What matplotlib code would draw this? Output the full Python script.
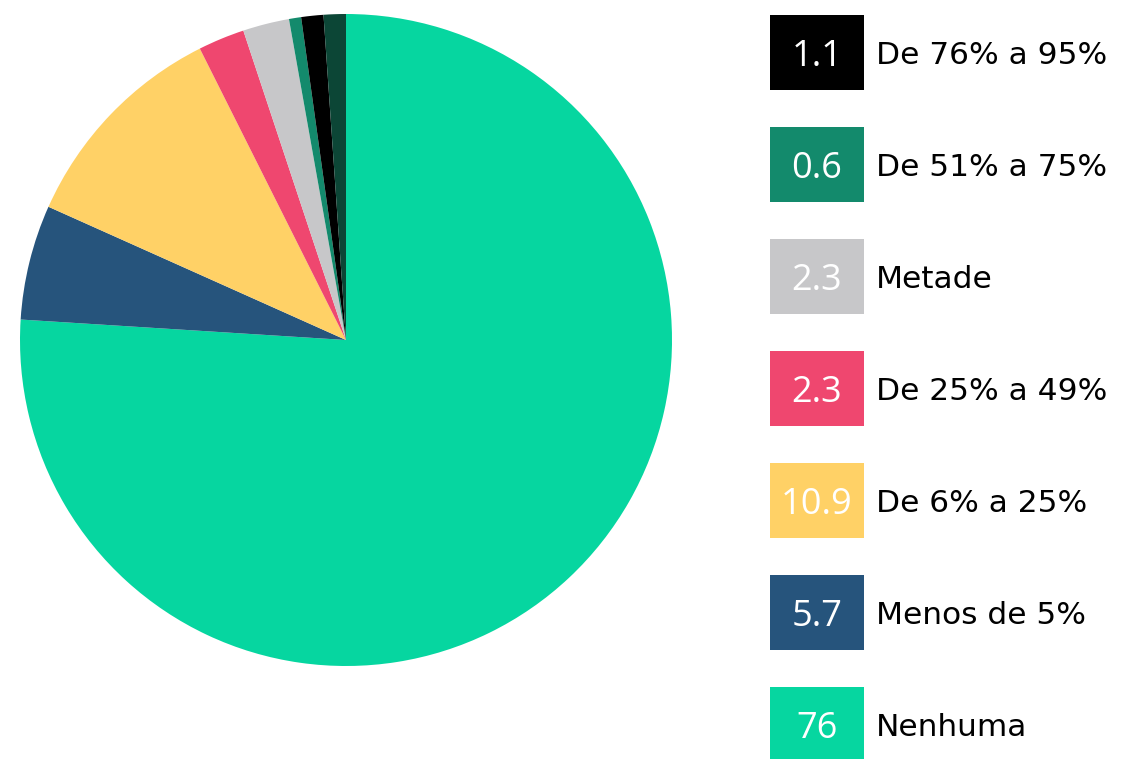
import matplotlib.pyplot as plt
from matplotlib.patches import Rectangle

# pie slices, clockwise from 12 o'clock
pie_values = [76, 5.7, 10.9, 2.3, 2.3, 0.6, 1.1, 1.1]
pie_colors = ['#06D6A0', '#26547C', '#FFD166', '#EF476F', '#C7C7C9',
              '#138A6C', '#000000', '#0C4636']

# legend rows, top to bottom
legend_values = ['1.1', '0.6', '2.3', '2.3', '10.9', '5.7', '76']
legend_labels = ['De 76% a 95%', 'De 51% a 75%', 'Metade', 'De 25% a 49%',
                 'De 6% a 25%', 'Menos de 5%', 'Nenhuma']
legend_colors = ['#000000', '#138A6C', '#C7C7C9', '#EF476F',
                 '#FFD166', '#26547C', '#06D6A0']

W, H = 1138, 759
fig = plt.figure(figsize=(W / 100, H / 100), dpi=100, facecolor='white')
plt.rcParams['font.family'] = ['Open Sans', 'DejaVu Sans']

# pie: center (346, 340), radius 326 px
cx, cy, r = 346, 340, 326
ax = fig.add_axes([(cx - r) / W, (H - cy - r) / H, 2 * r / W, 2 * r / H])
ax.pie(pie_values, colors=pie_colors, startangle=90, counterclock=False,
       radius=1, wedgeprops=dict(linewidth=0))
ax.set_xlim(-1, 1)
ax.set_ylim(-1, 1)
ax.set_aspect('auto')
ax.axis('off')

# legend drawn in pixel coordinates
lg = fig.add_axes([0, 0, 1, 1])
lg.set_xlim(0, W)
lg.set_ylim(H, 0)
lg.axis('off')

row_y0, row_step = 52.5, 112
for i, (val, lab, col) in enumerate(zip(legend_values, legend_labels, legend_colors)):
    yc = row_y0 + i * row_step
    lg.add_patch(Rectangle((770, yc - 37.5), 94, 75, facecolor=col, edgecolor='none'))
    lg.text(817, yc + 14, val, color='white', fontsize=26, ha='center', va='baseline')
    lg.text(876, yc + 12, lab, color='black', fontsize=22.5, ha='left', va='baseline',
            family='DejaVu Sans')

fig.savefig('out.png', dpi=100, facecolor='white')
